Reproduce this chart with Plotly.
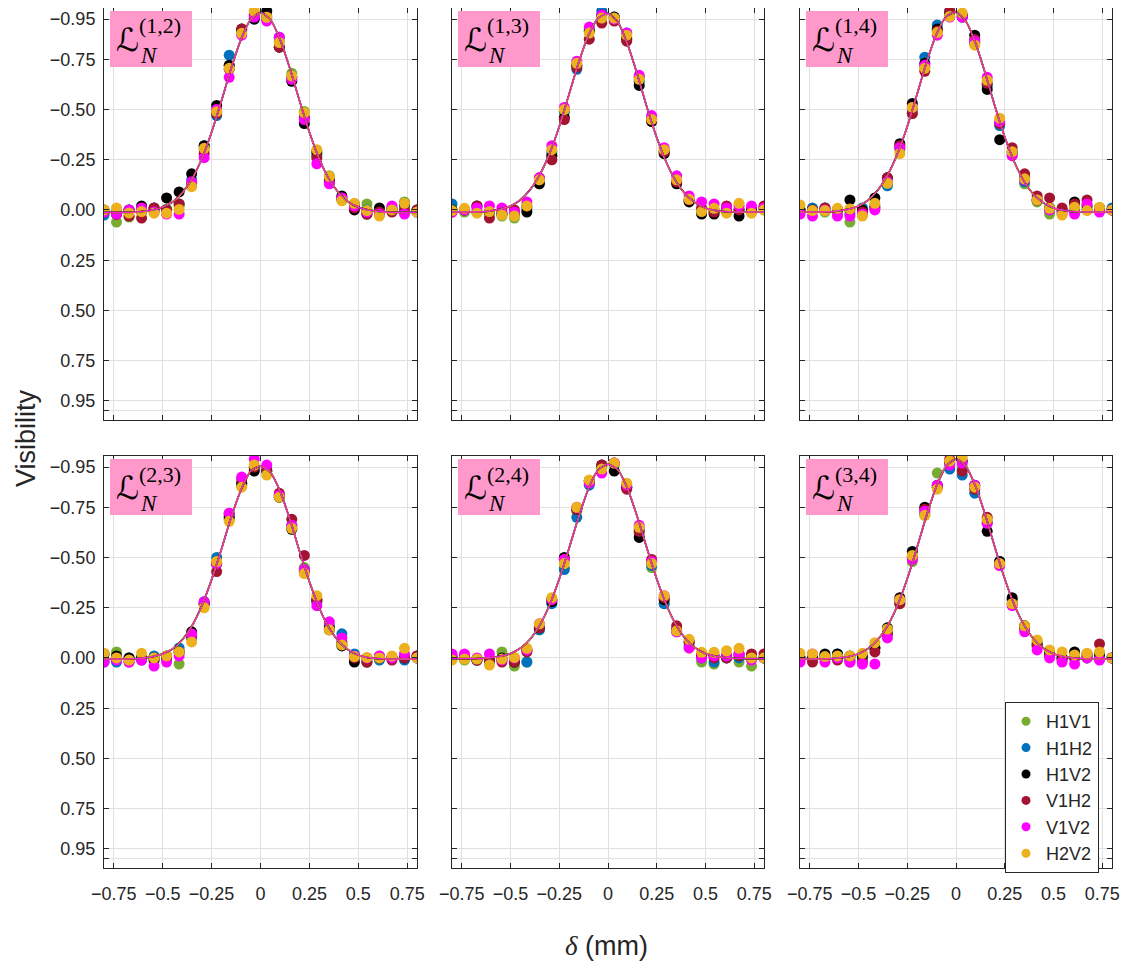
import plotly.graph_objects as go

# ---------------- data ----------------
DELTA = [-0.800, -0.736, -0.672, -0.608, -0.544, -0.480, -0.416, -0.352, -0.288, -0.224,
         -0.160, -0.096, -0.032, 0.032, 0.096, 0.160, 0.224, 0.288, 0.352, 0.416,
         0.480, 0.544, 0.608, 0.672, 0.736, 0.800]

FIT_DELTA = [-0.80, -0.75, -0.70, -0.65, -0.60, -0.55, -0.50, -0.45, -0.40, -0.35, -0.30,
             -0.25, -0.20, -0.15, -0.10, -0.05, 0.00, 0.05, 0.10, 0.15, 0.20, 0.25, 0.30,
             0.35, 0.40, 0.45, 0.50, 0.55, 0.60, 0.65, 0.70, 0.75, 0.80]

SERIES = ["H1V1", "H1H2", "H1V2", "V1H2", "V1V2", "H2V2"]
COLORS = ["#77AC30", "#0072BD", "#000000", "#A2142F", "#FF00FF", "#EDB120"]
PANEL_LABELS = ["(1,2)", "(1,3)", "(1,4)", "(2,3)", "(2,4)", "(3,4)"]

Y_TICKS = [-1.0, -0.95, -0.75, -0.50, -0.25, 0.0, 0.25, 0.50, 0.75, 0.95, 1.0]
Y_TICK_TEXT = ["", "\u22120.95", "\u22120.75", "\u22120.50", "\u22120.25", "0.00", "0.25", "0.50", "0.75", "0.95", ""]
X_TICKS = [-0.75, -0.5, -0.25, 0.0, 0.25, 0.5, 0.75]
X_TICK_TEXT = ["\u22120.75", "\u22120.5", "\u22120.25", "0", "0.25", "0.5", "0.75"]

# panel (1,2)
L12_H1V1 = [0.02, 0.06, 0.035, 0.01, 0.0, -0.005, -0.02, -0.13, -0.30, -0.49, -0.72, -0.89, -0.97, -0.97, -0.84, -0.68, -0.49, -0.28, -0.17, -0.06, -0.03, -0.03, 0.02, 0.0, -0.04, 0.0]
L12_H1H2 = [0.025, 0.01, 0.0, 0.01, 0.0, 0.0, -0.03, -0.15, -0.32, -0.47, -0.77, -0.89, -0.95, -0.95, -0.86, -0.66, -0.46, -0.27, -0.14, -0.05, -0.03, 0.0, 0.02, 0.0, -0.02, 0.01]
L12_H1V2 = [0.0, 0.02, 0.0, -0.02, -0.01, -0.06, -0.09, -0.18, -0.32, -0.52, -0.72, -0.90, -0.95, -0.99, -0.81, -0.64, -0.43, -0.29, -0.15, -0.07, 0.0, 0.02, -0.01, -0.01, -0.03, 0.0]
L12_V1H2 = [0.01, 0.02, 0.03, 0.04, -0.01, 0.0, -0.03, -0.13, -0.28, -0.48, -0.70, -0.90, -0.97, -0.96, -0.81, -0.66, -0.46, -0.26, -0.14, -0.06, -0.01, 0.02, 0.01, 0.01, 0.0, 0.0]
L12_V1V2 = [0.01, 0.02, 0.0, -0.01, 0.01, 0.02, 0.02, -0.14, -0.26, -0.50, -0.66, -0.87, -0.96, -0.94, -0.86, -0.65, -0.45, -0.23, -0.13, -0.06, -0.02, 0.01, 0.02, -0.02, 0.02, 0.01]
L12_H2V2 = [0.0, -0.01, 0.015, 0.008, 0.016, 0.016, -0.003, -0.116, -0.307, -0.489, -0.705, -0.879, -0.99, -0.959, -0.833, -0.667, -0.484, -0.30, -0.166, -0.046, -0.033, 0.003, 0.03, 0.0, -0.033, 0.01]
FIT_12 = [0.012, 0.012, 0.012, 0.011, 0.007, 0.0, -0.014, -0.040, -0.085, -0.155, -0.255, -0.387, -0.542, -0.705, -0.848, -0.948, -0.983, -0.948, -0.848, -0.705, -0.542, -0.387, -0.255, -0.155, -0.085, -0.040, -0.014, 0.0, 0.007, 0.011, 0.012, 0.012, 0.012]

# panel (1,3)
L13_H1V1 = [0.0, 0.01, 0.01, 0.02, 0.03, 0.04, 0.0, -0.13, -0.27, -0.49, -0.72, -0.89, -0.96, -0.95, -0.86, -0.64, -0.46, -0.29, -0.14, -0.05, 0.0, 0.01, 0.0, 0.0, 0.01, 0.0]
L13_H1H2 = [-0.03, 0.0, 0.01, 0.01, 0.02, 0.02, -0.01, -0.14, -0.29, -0.49, -0.70, -0.90, -0.99, -0.96, -0.88, -0.64, -0.45, -0.29, -0.14, -0.05, 0.0, 0.0, 0.01, 0.0, 0.01, -0.01]
L13_H1V2 = [0.0, 0.0, -0.02, 0.01, 0.02, 0.02, 0.01, -0.13, -0.27, -0.46, -0.72, -0.89, -0.97, -0.96, -0.85, -0.62, -0.44, -0.28, -0.13, -0.04, 0.02, 0.02, 0.0, 0.03, 0.0, -0.01]
L13_V1H2 = [0.01, 0.0, -0.02, 0.04, 0.01, 0.0, -0.02, -0.16, -0.25, -0.45, -0.71, -0.85, -0.93, -0.94, -0.84, -0.66, -0.45, -0.29, -0.14, -0.05, -0.01, 0.01, -0.02, 0.0, -0.01, -0.02]
L13_V1V2 = [0.01, 0.0, -0.01, -0.02, -0.01, 0.01, -0.04, -0.16, -0.32, -0.51, -0.74, -0.91, -0.97, -0.95, -0.88, -0.67, -0.47, -0.31, -0.17, -0.07, -0.04, -0.03, -0.01, -0.02, -0.02, -0.01]
L13_H2V2 = [0.003, -0.008, 0.016, 0.008, 0.025, 0.03, -0.02, -0.15, -0.30, -0.50, -0.73, -0.88, -0.955, -0.955, -0.87, -0.65, -0.45, -0.30, -0.15, -0.053, 0.008, -0.008, 0.016, -0.033, 0.016, 0.0]
FIT_13 = [0.01, 0.01, 0.01, 0.009, 0.004, -0.004, -0.02, -0.05, -0.10, -0.175, -0.28, -0.415, -0.575, -0.735, -0.87, -0.955, -0.978, -0.935, -0.825, -0.675, -0.51, -0.36, -0.235, -0.14, -0.075, -0.035, -0.01, 0.002, 0.008, 0.01, 0.01, 0.01, 0.01]

# panel (1,4)
L14_H1V1 = [0.0, 0.0, 0.01, 0.02, 0.06, 0.02, -0.01, -0.13, -0.30, -0.48, -0.71, -0.90, -0.97, -0.97, -0.84, -0.62, -0.43, -0.27, -0.13, -0.04, 0.02, 0.0, 0.01, 0.0, 0.0, 0.0]
L14_H1H2 = [0.0, -0.01, 0.0, 0.0, 0.02, -0.01, -0.02, -0.12, -0.31, -0.50, -0.76, -0.92, -0.99, -0.96, -0.83, -0.62, -0.42, -0.28, -0.14, -0.05, 0.0, 0.01, 0.0, 0.0, -0.01, -0.01]
L14_H1V2 = [0.0, 0.0, -0.01, 0.0, -0.05, 0.0, -0.06, -0.16, -0.33, -0.53, -0.73, -0.90, -0.98, -0.97, -0.87, -0.60, -0.35, -0.29, -0.16, -0.05, -0.01, 0.0, -0.04, -0.02, -0.01, 0.0]
L14_V1H2 = [0.01, 0.0, -0.01, 0.0, 0.0, 0.01, -0.01, -0.16, -0.32, -0.48, -0.69, -0.89, -0.99, -0.96, -0.85, -0.63, -0.43, -0.31, -0.18, -0.07, -0.06, -0.01, -0.03, -0.05, 0.0, 0.0]
L14_V1V2 = [0.02, 0.03, 0.0, 0.03, 0.03, 0.02, 0.0, -0.14, -0.31, -0.51, -0.72, -0.87, -0.96, -0.96, -0.84, -0.66, -0.44, -0.27, -0.15, -0.05, 0.0, 0.02, 0.02, -0.03, 0.01, 0.0]
L14_H2V2 = [-0.025, 0.003, 0.003, -0.008, -0.005, 0.03, -0.033, -0.133, -0.28, -0.51, -0.705, -0.883, -0.963, -0.98, -0.82, -0.645, -0.457, -0.29, -0.155, -0.05, -0.008, 0.025, -0.013, 0.003, -0.013, 0.0]
FIT_14 = [0.01, 0.01, 0.01, 0.009, 0.004, -0.004, -0.02, -0.05, -0.10, -0.175, -0.28, -0.415, -0.575, -0.738, -0.875, -0.962, -0.985, -0.94, -0.83, -0.68, -0.515, -0.363, -0.237, -0.141, -0.075, -0.035, -0.01, 0.002, 0.008, 0.01, 0.01, 0.01, 0.01]

# panel (2,3)
L23_H1V1 = [-0.02, -0.03, 0.0, 0.0, 0.01, 0.0, 0.03, -0.10, -0.27, -0.47, -0.69, -0.87, -0.95, -0.94, -0.81, -0.65, -0.45, -0.28, -0.14, -0.07, -0.01, 0.0, -0.01, 0.0, -0.01, 0.0]
L23_H1H2 = [0.02, 0.02, 0.0, 0.0, -0.01, -0.01, -0.05, -0.10, -0.28, -0.50, -0.71, -0.86, -0.94, -0.93, -0.80, -0.66, -0.44, -0.28, -0.16, -0.12, -0.02, 0.0, 0.01, 0.0, 0.01, 0.0]
L23_H1V2 = [-0.02, -0.01, 0.0, 0.0, 0.01, 0.0, -0.03, -0.13, -0.27, -0.47, -0.70, -0.87, -0.93, -0.93, -0.80, -0.64, -0.43, -0.29, -0.15, -0.06, 0.02, 0.02, 0.0, 0.0, 0.0, -0.01]
L23_V1H2 = [0.01, 0.0, 0.02, 0.01, 0.0, -0.01, -0.03, -0.11, -0.27, -0.43, -0.72, -0.89, -0.95, -0.93, -0.82, -0.69, -0.51, -0.29, -0.14, -0.08, 0.0, 0.02, 0.0, 0.01, 0.0, -0.01]
L23_V1V2 = [0.02, 0.01, 0.02, 0.01, 0.04, 0.02, -0.01, -0.12, -0.28, -0.47, -0.72, -0.90, -0.99, -0.96, -0.81, -0.66, -0.44, -0.26, -0.18, -0.10, -0.01, 0.0, -0.01, 0.0, -0.02, 0.0]
L23_H2V2 = [-0.023, 0.0, 0.01, -0.023, 0.0, -0.01, -0.03, -0.08, -0.25, -0.48, -0.68, -0.85, -0.96, -0.91, -0.80, -0.645, -0.42, -0.31, -0.14, -0.065, -0.007, -0.003, 0.0, -0.01, -0.048, 0.0]
FIT_23 = [0.005, 0.005, 0.005, 0.004, 0.0, -0.007, -0.02, -0.045, -0.09, -0.16, -0.26, -0.39, -0.54, -0.70, -0.835, -0.93, -0.955, -0.925, -0.83, -0.69, -0.53, -0.38, -0.25, -0.15, -0.083, -0.04, -0.015, -0.002, 0.003, 0.005, 0.005, 0.005, 0.005]

# panel (2,4)
L24_H1V1 = [0.0, 0.01, 0.01, 0.02, -0.03, 0.04, 0.02, -0.14, -0.29, -0.45, -0.73, -0.88, -0.95, -0.96, -0.85, -0.62, -0.45, -0.27, -0.14, -0.05, 0.02, 0.03, 0.0, 0.02, 0.04, 0.0]
L24_H1H2 = [0.0, 0.0, 0.01, 0.02, 0.01, 0.02, 0.02, -0.14, -0.27, -0.44, -0.70, -0.86, -0.95, -0.97, -0.85, -0.64, -0.46, -0.27, -0.13, -0.06, 0.0, 0.02, 0.0, 0.0, 0.0, 0.0]
L24_H1V2 = [-0.01, 0.0, 0.01, 0.01, 0.0, 0.02, -0.04, -0.15, -0.28, -0.50, -0.74, -0.88, -0.96, -0.93, -0.85, -0.60, -0.48, -0.29, -0.14, -0.08, -0.01, -0.01, -0.01, -0.02, 0.0, 0.0]
L24_V1H2 = [0.0, -0.01, 0.01, 0.01, 0.02, 0.02, -0.03, -0.15, -0.29, -0.49, -0.74, -0.88, -0.96, -0.97, -0.84, -0.63, -0.49, -0.30, -0.16, -0.08, -0.02, 0.0, 0.0, -0.01, -0.02, -0.02]
L24_V1V2 = [-0.02, -0.02, 0.0, -0.02, 0.01, 0.0, -0.04, -0.17, -0.29, -0.49, -0.75, -0.87, -0.92, -0.97, -0.86, -0.66, -0.48, -0.31, -0.13, -0.05, 0.0, -0.01, -0.01, -0.02, 0.01, 0.0]
L24_H2V2 = [0.01, 0.005, 0.005, 0.035, 0.005, -0.003, -0.048, -0.17, -0.30, -0.47, -0.75, -0.885, -0.94, -0.97, -0.87, -0.65, -0.47, -0.31, -0.135, -0.093, -0.028, -0.028, -0.036, -0.048, 0.0, 0.0]
FIT_24 = [0.003, 0.003, 0.003, 0.002, -0.002, -0.009, -0.022, -0.048, -0.093, -0.163, -0.263, -0.393, -0.545, -0.703, -0.843, -0.937, -0.965, -0.937, -0.843, -0.703, -0.545, -0.393, -0.263, -0.163, -0.093, -0.048, -0.022, -0.009, -0.002, 0.002, 0.003, 0.003, 0.003]

# panel (3,4)
L34_H1V1 = [0.0, 0.0, -0.01, 0.0, 0.0, 0.01, -0.05, -0.13, -0.27, -0.48, -0.71, -0.92, -0.97, -0.95, -0.85, -0.68, -0.46, -0.29, -0.16, -0.08, -0.02, 0.0, 0.0, 0.0, 0.0, 0.0]
L34_H1H2 = [0.0, -0.01, -0.01, -0.02, 0.01, 0.0, -0.05, -0.12, -0.28, -0.50, -0.72, -0.85, -0.94, -0.91, -0.82, -0.67, -0.48, -0.29, -0.15, -0.06, -0.02, 0.0, 0.0, 0.0, -0.01, 0.0]
L34_H1V2 = [0.0, 0.0, -0.02, -0.02, -0.01, -0.01, -0.05, -0.15, -0.30, -0.53, -0.75, -0.86, -0.97, -0.98, -0.86, -0.63, -0.48, -0.30, -0.16, -0.07, -0.03, 0.0, -0.03, -0.02, -0.02, 0.0]
L34_V1H2 = [0.01, 0.02, 0.0, 0.01, 0.02, 0.02, -0.03, -0.12, -0.27, -0.50, -0.74, -0.85, -0.99, -0.93, -0.84, -0.70, -0.47, -0.27, -0.15, -0.06, -0.01, 0.01, 0.0, -0.01, -0.07, 0.0]
L34_V1V2 = [0.02, -0.02, 0.02, 0.0, 0.02, 0.03, 0.03, -0.10, -0.29, -0.49, -0.73, -0.86, -0.96, -0.97, -0.86, -0.67, -0.46, -0.26, -0.13, -0.04, 0.0, 0.02, 0.03, 0.0, 0.01, 0.0]
L34_H2V2 = [-0.023, -0.02, -0.007, -0.01, -0.01, -0.023, -0.076, -0.144, -0.29, -0.51, -0.71, -0.84, -0.98, -1.0, -0.85, -0.69, -0.47, -0.27, -0.16, -0.09, -0.04, -0.03, -0.015, -0.023, -0.03, 0.0]
FIT_34 = [0.005, 0.005, 0.005, 0.004, 0.0, -0.007, -0.021, -0.047, -0.092, -0.162, -0.262, -0.394, -0.549, -0.712, -0.855, -0.955, -0.99, -0.955, -0.855, -0.712, -0.549, -0.394, -0.262, -0.162, -0.092, -0.047, -0.021, -0.007, 0.0, 0.004, 0.005, 0.005, 0.005]

PANELS = [
    [L12_H1V1, L12_H1H2, L12_H1V2, L12_V1H2, L12_V1V2, L12_H2V2],
    [L13_H1V1, L13_H1H2, L13_H1V2, L13_V1H2, L13_V1V2, L13_H2V2],
    [L14_H1V1, L14_H1H2, L14_H1V2, L14_V1H2, L14_V1V2, L14_H2V2],
    [L23_H1V1, L23_H1H2, L23_H1V2, L23_V1H2, L23_V1V2, L23_H2V2],
    [L24_H1V1, L24_H1H2, L24_H1V2, L24_V1H2, L24_V1V2, L24_H2V2],
    [L34_H1V1, L34_H1H2, L34_H1V2, L34_V1H2, L34_V1V2, L34_H2V2],
]
FITS = [FIT_12, FIT_13, FIT_14, FIT_23, FIT_24, FIT_34]

# ---------------- layout geometry (page pixels) ----------------
OFF = 8                      # default page margin of the html body
W, H = 1128 - OFF, 966 - OFF
COL_L = [104, 452, 800]
COL_R = [417, 764, 1112]
ROW_T = [8, 456]
ROW_B = [420, 868]
AX = "#262626"
GRID = "#e0e0e0"
FONT = "Liberation Sans, Arial, sans-serif"
SERIF = "Liberation Serif, Times New Roman, serif"


def fx(px):
    return (px - OFF) / W


def fy(py):
    return 1 - (py - OFF) / H


fig = go.Figure()
layout = dict(
    width=W, height=H,
    margin=dict(l=0, r=0, t=0, b=0),
    paper_bgcolor="white", plot_bgcolor="white",
    showlegend=True,
    font=dict(family=FONT, color=AX, size=18),
)
annotations = []
shapes = []

LINE_ORDER = [0, 1, 3, 2, 5, 4]
LINE_W = {0: 1.2, 1: 1.2, 2: 1.8, 3: 1.2, 4: 1.0, 5: 1.5}

for p in range(6):
    r, c = divmod(p, 3)
    xn = "x" if p == 0 else f"x{p+1}"
    yn = "y" if p == 0 else f"y{p+1}"
    xk = "xaxis" if p == 0 else f"xaxis{p+1}"
    yk = "yaxis" if p == 0 else f"yaxis{p+1}"
    layout[xk] = dict(
        domain=[fx(COL_L[c]), fx(COL_R[c])], anchor=yn, range=[-0.8, 0.8],
        tickmode="array", tickvals=X_TICKS, ticktext=X_TICK_TEXT,
        showticklabels=(r == 1), ticks="inside", ticklen=5, tickcolor=AX, tickwidth=1,
        showline=True, linecolor=AX, linewidth=1, mirror="ticks",
        showgrid=True, gridcolor=GRID, gridwidth=1, zeroline=False,
        tickfont=dict(family=FONT, size=18, color=AX), automargin=False,
        ticklabelstandoff=9,
    )
    layout[yk] = dict(
        domain=[fy(ROW_B[r]), fy(ROW_T[r])], anchor=xn, range=[1.045, -1.005],
        tickmode="array", tickvals=Y_TICKS, ticktext=Y_TICK_TEXT,
        showticklabels=(c == 0), ticks="inside", ticklen=5, tickcolor=AX, tickwidth=1,
        showline=True, linecolor=AX, linewidth=1, mirror="ticks",
        showgrid=True, gridcolor=GRID, gridwidth=1, zeroline=False,
        tickfont=dict(family=FONT, size=18, color=AX), automargin=False,
        ticklabelstandoff=4,
    )
    for s in range(6):
        fig.add_trace(go.Scatter(
            x=DELTA, y=PANELS[p][s], mode="markers", xaxis=xn, yaxis=yn,
            marker=dict(color=COLORS[s], size=11, line=dict(width=0)),
            showlegend=False, hoverinfo="skip",
        ))
    for s in LINE_ORDER:
        fig.add_trace(go.Scatter(
            x=FIT_DELTA, y=FITS[p], mode="lines", xaxis=xn, yaxis=yn,
            line=dict(color=COLORS[s], width=LINE_W[s], shape="spline", smoothing=0.6),
            showlegend=False, hoverinfo="skip",
        ))
    L, T = COL_L[c], ROW_T[r]
    shapes.append(dict(type="rect", xref="paper", yref="paper",
                       x0=fx(L + 6), x1=fx(L + 88), y0=fy(T + 59), y1=fy(T + 3),
                       fillcolor="#FF99CC", line=dict(width=0), layer="above"))
    annotations.append(dict(text="\u2112", xref="paper", yref="paper",
                            x=fx(L + 23), y=fy(T + 32), xanchor="center", yanchor="middle",
                            showarrow=False, font=dict(family="DejaVu Sans", size=32, color="black")))
    annotations.append(dict(text=PANEL_LABELS[p], xref="paper", yref="paper",
                            x=fx(L + 56), y=fy(T + 18), xanchor="center", yanchor="middle",
                            showarrow=False, font=dict(family=SERIF, size=22, color="black")))
    annotations.append(dict(text="<i>N</i>", xref="paper", yref="paper",
                            x=fx(L + 45), y=fy(T + 47), xanchor="center", yanchor="middle",
                            showarrow=False, font=dict(family=SERIF, size=23, color="black")))

for s in range(6):
    fig.add_trace(go.Scatter(
        x=[None], y=[None], mode="markers", name=SERIES[s],
        marker=dict(color=COLORS[s], size=9), showlegend=True, xaxis="x6", yaxis="y6",
    ))

annotations.append(dict(text="Visibility", xref="paper", yref="paper", x=fx(26), y=fy(438),
                        xanchor="center", yanchor="middle", textangle=-90, showarrow=False,
                        font=dict(family=FONT, size=27, color=AX)))
annotations.append(dict(text="<span style='font-family:Liberation Serif'><i>\u03b4</i></span> (mm)",
                        xref="paper", yref="paper", x=fx(606), y=fy(946),
                        xanchor="center", yanchor="middle", showarrow=False,
                        font=dict(family=FONT, size=27, color=AX)))

layout["legend"] = dict(
    x=fx(1099), y=fy(702), xanchor="right", yanchor="top",
    bgcolor="white", bordercolor=AX, borderwidth=1,
    font=dict(family=FONT, size=18, color=AX), tracegroupgap=0, itemwidth=30,
)
layout["annotations"] = annotations
layout["shapes"] = shapes
fig.update_layout(**layout)
fig.write_html("out.html")
